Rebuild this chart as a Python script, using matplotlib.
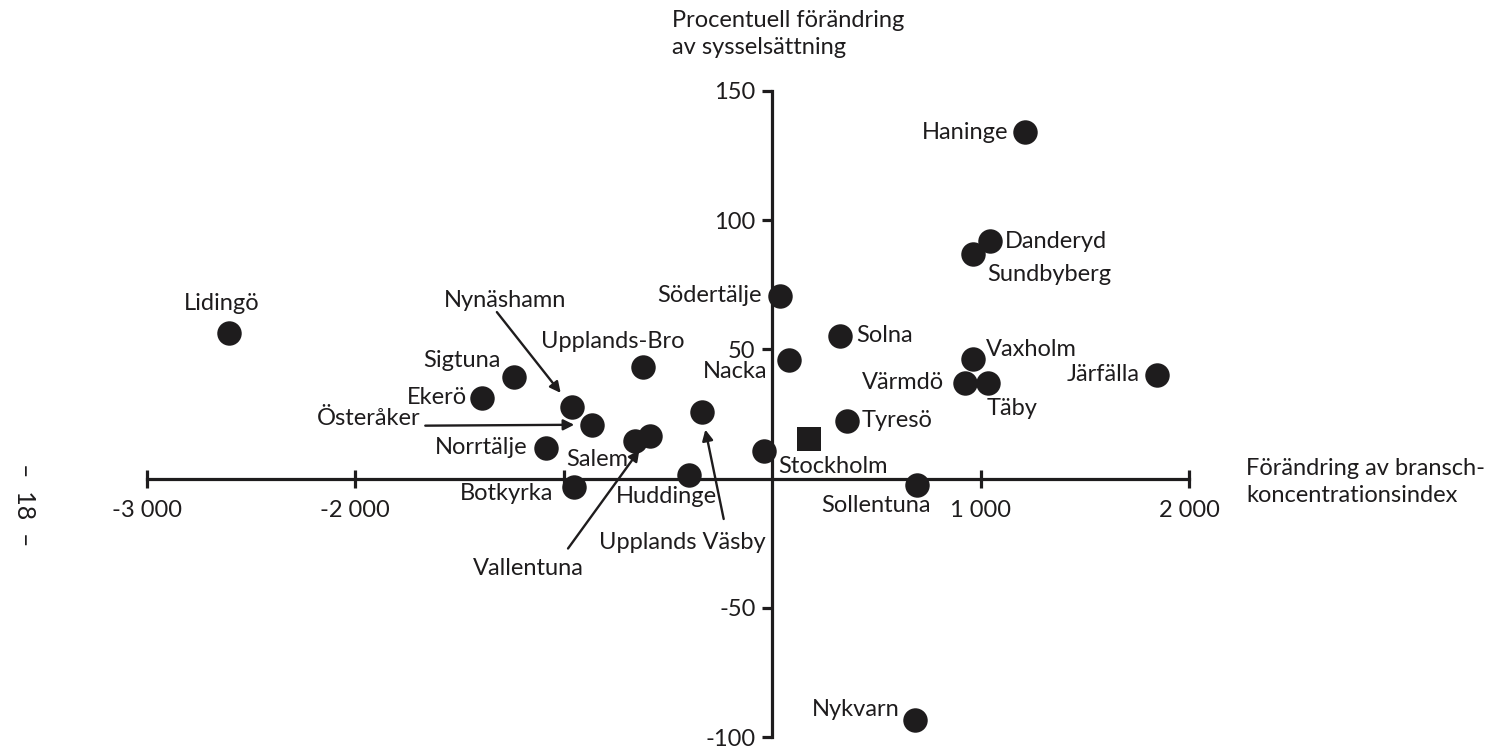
import numpy as np
import matplotlib.pyplot as plt

# kommuner: förändring av branschkoncentrationsindex (x), procentuell förändring av sysselsättning (y)
names = ['Haninge', 'Danderyd', 'Sundbyberg', 'Lidingö', 'Södertälje', 'Solna', 'Nacka',
         'Vaxholm', 'Värmdö', 'Täby', 'Järfälla', 'Upplands-Bro', 'Sigtuna', 'Ekerö',
         'Nynäshamn', 'Österåker', 'Norrtälje', 'Salem', 'Vallentuna', 'Botkyrka',
         'Huddinge', 'Upplands Väsby', 'Stockholm', 'Tyresö', 'Sollentuna', 'Nykvarn']
x_vals = [1213, 1046, 964, -2604, 37, 325, 80,
          962, 925, 1035, 1846, -618, -1241, -1393,
          -961, -863, -1086, -658, -586, -951,
          -397, -338, -40, 358, 697, 685]
y_vals = [134.1, 91.8, 86.9, 56.4, 70.7, 55.3, 46.0,
          46.4, 37.1, 37.1, 40.2, 43.4, 39.5, 31.4,
          27.7, 20.9, 12.0, 14.4, 16.7, -3.2,
          1.5, 25.8, 10.9, 22.4, -2.3, -93.5]

# länet (kvadrat)
lan_x = [177]
lan_y = [15.2]

x_ticks = [-3000, -2000, -1000, 1000, 2000]
x_ticklabels = ['-3 000', '-2 000', '', '1 000', '2 000']
y_ticks = [-100, -50, 50, 100, 150]
y_ticklabels = ['-100', '-50', '50', '100', '150']

# label placement in pixels relative to the marker: (dx, dy, ha)
offsets = {
    'Haninge': (-17, 0, 'right'), 'Danderyd': (15, 0, 'left'), 'Sundbyberg': (14, -20, 'left'),
    'Lidingö': (-8, 29, 'center'), 'Södertälje': (-18, 0, 'right'), 'Solna': (16, 0, 'left'),
    'Nacka': (-21, -12, 'right'), 'Vaxholm': (13, 9, 'left'), 'Värmdö': (-21, 0, 'right'),
    'Täby': (-1, -26, 'left'), 'Järfälla': (-17, 0, 'right'), 'Upplands-Bro': (-31, 25, 'center'),
    'Sigtuna': (-13, 16, 'right'), 'Ekerö': (-15, 0, 'right'), 'Norrtälje': (-18, 0, 'right'),
    'Salem': (-7, -18, 'right'), 'Botkyrka': (-21, -7, 'right'), 'Huddinge': (-23, -22, 'center'),
    'Stockholm': (14, -16, 'left'), 'Tyresö': (15, 0, 'left'), 'Sollentuna': (-41, -21, 'center'),
    'Nykvarn': (-15, 11, 'right'),
}
# labels with arrows: text position and arrow start, in pixels relative to marker
arrows = {
    'Nynäshamn': ((-67, 107), (-75, 95), 'center'),
    'Österåker': ((-172, 6), (-167, -1), 'right'),
    'Upplands Väsby': ((-19, -131), (22, -107), 'center'),
    'Vallentuna': ((-122, -133), (-82, -113), 'center'),
}

plt.rcParams['font.family'] = ['Lato', 'DejaVu Sans']
fs = 17
ink = '#1e1c1d'
fig = plt.figure(figsize=(14.88, 7.48), dpi=100)
ax = fig.add_axes([0, 0, 1, 1])
ax.set_xlim(-3705, 3435)
ax.set_ylim(-104.2, 185.2)

for side in ['top', 'right']:
    ax.spines[side].set_visible(False)
ax.spines['left'].set_position(('data', 0))
ax.spines['bottom'].set_position(('data', 0))
ax.spines['left'].set_bounds(-100, 150)
ax.spines['bottom'].set_bounds(-3000, 2000)
for side in ['left', 'bottom']:
    ax.spines[side].set_linewidth(2.3)
    ax.spines[side].set_color(ink)

ax.set_xticks(x_ticks, x_ticklabels)
ax.set_yticks(y_ticks, y_ticklabels)
ax.tick_params(axis='x', direction='inout', length=13, width=2.3, color=ink, pad=9,
               labelsize=fs, labelcolor=ink)
ax.tick_params(axis='y', direction='out', length=7, width=2.3, color=ink, pad=5,
               labelsize=fs, labelcolor=ink)

ax.scatter(x_vals, y_vals, s=310, color=ink, zorder=3, linewidths=0)
ax.scatter(lan_x, lan_y, s=300, marker='s', color=ink, zorder=3, linewidths=0)

for n, x, y in zip(names, x_vals, y_vals):
    if n in offsets:
        dx, dy, ha = offsets[n]
        ax.annotate(n, (x, y), xytext=(dx, dy), textcoords='offset pixels',
                    ha=ha, va='center', fontsize=fs, color=ink)
    elif n in arrows:
        (tx, ty), (ax0, ay0), ha = arrows[n]
        ax.annotate(n, (x, y), xytext=(tx, ty), textcoords='offset pixels',
                    ha=ha, va='center', fontsize=fs, color=ink)
        ax.annotate('', (x, y), xytext=(ax0, ay0), textcoords='offset pixels',
                    arrowprops=dict(arrowstyle='-|>', color=ink, lw=1.7,
                                    shrinkA=0, shrinkB=13, mutation_scale=16))

ax.text(672 / 1488, 1 - 34 / 748, 'Procentuell förändring\nav sysselsättning', transform=ax.transAxes,
        ha='left', va='center', fontsize=fs, color=ink, linespacing=1.35)
ax.text(1246 / 1488, 1 - 482 / 748, 'Förändring av bransch-\nkoncentrationsindex', transform=ax.transAxes,
        ha='left', va='center', fontsize=fs, color=ink, linespacing=1.35)
ax.text(24 / 1488, 1 - 505 / 748, '–  18  –', transform=ax.transAxes, rotation=-90,
        ha='center', va='center', fontsize=fs + 1, color=ink)

fig.savefig('out.png', dpi=100)
